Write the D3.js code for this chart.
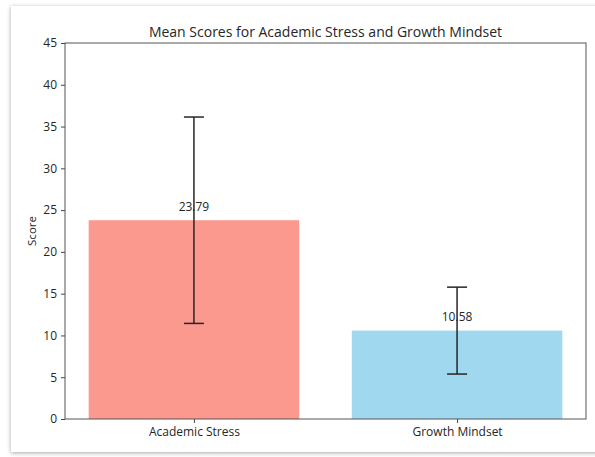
<!DOCTYPE html>
<html>
<head>
<meta charset="utf-8">
<script src="https://cdn.jsdelivr.net/npm/d3@7"></script>
<style>
  html, body { margin: 0; padding: 0; background: #ffffff; }
  svg { display: block; }
  text { font-family: "Open Sans", "DejaVu Sans", sans-serif; fill: #262626; }
</style>
</head>
<body>
<svg id="chart" width="595" height="457"></svg>
<script>
// Mean scores with standard deviations
const categories = ["Academic Stress", "Growth Mindset"];
const means = [23.79, 10.58];
const stdDevs = [12.35, 5.2];
const barColors = ["#fa8072", "#87ceeb"];
const yTicks = [0, 5, 10, 15, 20, 25, 30, 35, 40, 45];

const svg = d3.select("#chart");

// Card with soft shadow behind the figure
const defs = svg.append("defs");
const shadow = defs.append("filter").attr("id", "cardShadow")
  .attr("x", "-5%").attr("y", "-5%").attr("width", "110%").attr("height", "110%");
shadow.append("feDropShadow").attr("dx", 0).attr("dy", 1).attr("stdDeviation", 2)
  .attr("flood-color", "#000").attr("flood-opacity", 0.35);

svg.append("rect").attr("x", 11).attr("y", 6).attr("width", 600).attr("height", 446)
  .attr("fill", "#fff").attr("filter", "url(#cardShadow)");

const plot = { left: 65, top: 43, right: 586, bottom: 419 };

// x: bars at positions 0 and 1, width 0.8, with 5% margins
const x = d3.scaleLinear().domain([-0.49, 1.49]).range([plot.left, plot.right]);
const y = d3.scaleLinear().domain([0, 45]).range([plot.bottom, plot.top]);
const barWidth = 0.8;

const g = svg.append("g");

// Bars
g.selectAll("rect.bar").data(categories).join("rect")
  .attr("class", "bar")
  .attr("x", (d, i) => x(i - barWidth / 2))
  .attr("width", (d, i) => x(i + barWidth / 2) - x(i - barWidth / 2))
  .attr("y", (d, i) => y(means[i]))
  .attr("height", (d, i) => y(0) - y(means[i]))
  .attr("fill", (d, i) => barColors[i])
  .attr("fill-opacity", 0.8);

// Error bars
const capHalf = 10;
const err = g.selectAll("g.err").data(categories).join("g").attr("class", "err");
err.append("line")
  .attr("x1", (d, i) => x(i)).attr("x2", (d, i) => x(i))
  .attr("y1", (d, i) => y(means[i] - stdDevs[i]))
  .attr("y2", (d, i) => y(means[i] + stdDevs[i]));
err.append("line")
  .attr("x1", (d, i) => x(i) - capHalf).attr("x2", (d, i) => x(i) + capHalf)
  .attr("y1", (d, i) => y(means[i] + stdDevs[i]))
  .attr("y2", (d, i) => y(means[i] + stdDevs[i]));
err.append("line")
  .attr("x1", (d, i) => x(i) - capHalf).attr("x2", (d, i) => x(i) + capHalf)
  .attr("y1", (d, i) => y(means[i] - stdDevs[i]))
  .attr("y2", (d, i) => y(means[i] - stdDevs[i]));
err.selectAll("line").attr("stroke", "#262626").attr("stroke-width", 1.5);

// Value labels
g.selectAll("text.val").data(categories).join("text")
  .attr("class", "val")
  .attr("x", (d, i) => x(i))
  .attr("y", (d, i) => y(means[i] + 1) - 1)
  .attr("text-anchor", "middle")
  .attr("font-size", 12)
  .text((d, i) => means[i].toFixed(2));

// Y axis
const yAxis = d3.axisLeft(y).tickValues(yTicks).tickSize(4).tickPadding(4);
const yg = svg.append("g").attr("transform", `translate(${plot.left},0)`).call(yAxis);
yg.select(".domain").remove();
yg.selectAll("line").attr("stroke", "#444");
yg.selectAll("text").attr("font-size", 12).style("fill", "#262626")
  .style("font-family", '"Open Sans", sans-serif');

// X axis
const xAxis = d3.axisBottom(x).tickValues([0, 1]).tickFormat((d) => categories[d])
  .tickSize(4).tickPadding(4);
const xg = svg.append("g").attr("transform", `translate(0,${plot.bottom})`).call(xAxis);
xg.select(".domain").remove();
xg.selectAll("line").attr("stroke", "#444");
xg.selectAll("text").attr("font-size", 12).style("fill", "#262626")
  .style("font-family", '"Open Sans", sans-serif');

// Plot frame
svg.append("rect")
  .attr("x", plot.left).attr("y", plot.top)
  .attr("width", plot.right - plot.left).attr("height", plot.bottom - plot.top)
  .attr("fill", "none").attr("stroke", "#555").attr("stroke-width", 1);

// Y label
svg.append("text")
  .attr("transform", `translate(36,${(plot.top + plot.bottom) / 2}) rotate(-90)`)
  .attr("text-anchor", "middle")
  .attr("font-size", 11.5)
  .text("Score");

// Title
svg.append("text")
  .attr("x", (plot.left + plot.right) / 2)
  .attr("y", 37)
  .attr("text-anchor", "middle")
  .attr("font-size", 14)
  .text("Mean Scores for Academic Stress and Growth Mindset");
</script>
</body>
</html>
